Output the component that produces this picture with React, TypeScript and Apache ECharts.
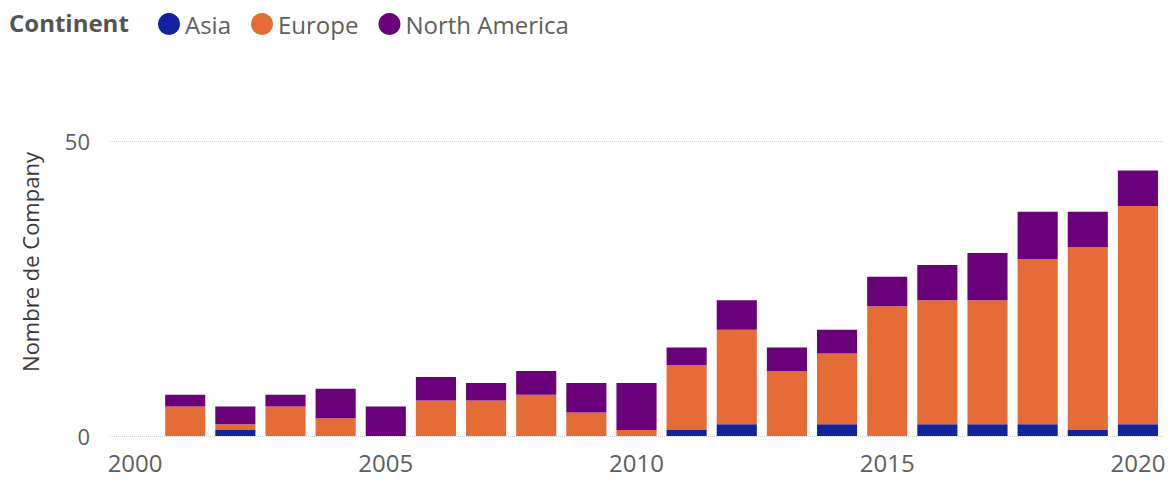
import React, { useEffect, useRef } from "react";
import * as echarts from "echarts";

const years = ["2000","2001","2002","2003","2004","2005","2006","2007","2008","2009","2010","2011","2012","2013","2014","2015","2016","2017","2018","2019","2020"];
const asia =    [0, 0, 1, 0, 0, 0, 0, 0, 0, 0, 0, 1, 2, 0, 2, 0, 2, 2, 2, 1, 2];
const europe =  [0, 5, 1, 5, 3, 0, 6, 6, 7, 4, 1, 11, 16, 11, 12, 22, 21, 21, 28, 31, 37];
const northAm = [0, 2, 3, 2, 5, 5, 4, 3, 4, 5, 8, 3, 5, 4, 4, 5, 6, 8, 8, 6, 6];
const seriesNames = ["Asia", "Europe", "North America"];
const colors = ["#12239E", "#E66C37", "#6B007B"];
const FONT = "'Segoe UI', 'Open Sans', sans-serif";

export default function App() {
  const ref = useRef<HTMLDivElement>(null);
  useEffect(() => {
    const chart = echarts.init(ref.current!, null, { renderer: "svg" });
    const datasets = [asia, europe, northAm];
    chart.setOption({
      animation: false,
      color: colors,
      textStyle: { fontFamily: FONT },
      legend: {
        left: 158,
        top: 12,
        icon: "circle",
        itemWidth: 22,
        itemHeight: 22,
        itemGap: 20,
        padding: 0,
        data: seriesNames,
        textStyle: { fontSize: 24, color: "#605E5C", fontFamily: FONT },
      },
      graphic: [
        {
          type: "text",
          left: 9,
          top: 10,
          style: { text: "Continent", font: "bold 24px " + FONT, fill: "#555555" },
        },
        {
          type: "text",
          x: 19,
          y: 262,
          rotation: Math.PI / 2,
          style: {
            text: "Nombre de Company",
            font: "22px " + FONT,
            fill: "#3a3a3a",
            align: "center",
            verticalAlign: "top",
          },
        },
      ],
      grid: { left: 110, right: 13, top: 141, bottom: 49 },
      xAxis: {
        type: "category",
        data: years,
        axisLine: { show: false },
        axisTick: { show: false },
        axisLabel: {
          interval: 4,
          fontSize: 24,
          color: "#605E5C",
          margin: 14,
          fontFamily: FONT,
        },
      },
      yAxis: {
        type: "value",
        min: 0,
        max: 50,
        interval: 50,
        axisLine: { show: false },
        axisTick: { show: false },
        axisLabel: { fontSize: 22, color: "#605E5C", margin: 20, fontFamily: FONT },
        splitLine: { lineStyle: { type: "dotted", color: "#cfcfcf", width: 1 } },
      },
      series: seriesNames.map((name, i) => ({
        name,
        type: "bar",
        stack: "total",
        barCategoryGap: "20%",
        data: datasets[i],
        itemStyle: { color: colors[i] },
      })),
    });
    return () => chart.dispose();
  }, []);
  return (
    <div
      ref={ref}
      style={{ position: "fixed", left: 0, top: 0, width: 1176, height: 485, background: "#fff" }}
    />
  );
}
